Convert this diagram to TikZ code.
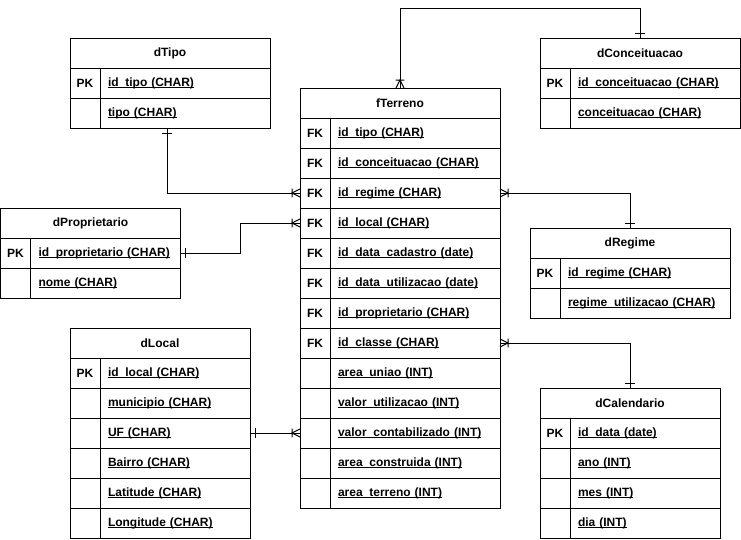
\documentclass[tikz,border=0pt]{standalone}
\usepackage{fontspec}
\setmainfont{Liberation Sans}
\usetikzlibrary{calc}

\pgfdeclarearrow{
  name = crow,
  setup code = {
    \pgfarrowssettipend{0pt}
    \pgfarrowssetlineend{0pt}
    \pgfarrowssetbackend{-6pt}
    \pgfarrowshullpoint{0pt}{3pt}
    \pgfarrowshullpoint{0pt}{-3pt}
    \pgfarrowshullpoint{-6pt}{3pt}
    \pgfarrowshullpoint{-6pt}{-3pt}
  },
  drawing code = {
    \pgfsetdash{}{0pt}
    \pgfpathmoveto{\pgfqpoint{0pt}{3pt}}
    \pgfpathlineto{\pgfqpoint{-6pt}{0pt}}
    \pgfpathlineto{\pgfqpoint{0pt}{-3pt}}
    \pgfpathmoveto{\pgfqpoint{-6pt}{3.2pt}}
    \pgfpathlineto{\pgfqpoint{-6pt}{-3.2pt}}
    \pgfusepathqstroke
  },
}
\pgfdeclarearrow{
  name = onebar,
  setup code = {
    \pgfarrowssettipend{0pt}
    \pgfarrowssetlineend{0pt}
    \pgfarrowssetbackend{-4pt}
    \pgfarrowshullpoint{0pt}{3.6pt}
    \pgfarrowshullpoint{-4pt}{3.6pt}
    \pgfarrowshullpoint{-4pt}{-3.6pt}
  },
  drawing code = {
    \pgfsetdash{}{0pt}
    \pgfpathmoveto{\pgfqpoint{-3.75pt}{3.6pt}}
    \pgfpathlineto{\pgfqpoint{-3.75pt}{-3.6pt}}
    \pgfusepathqstroke
  },
}

\newcommand{\erul}[1]{\setbox0\hbox{#1}\rlap{\rule[-1.6pt]{\wd0}{0.65pt}}\box0}

\tikzset{
  cell/.style={draw, line width=0.75pt, minimum height=22.5pt, inner sep=0pt, outer sep=0pt},
  hdr/.style={cell},
  keycell/.style={cell, minimum width=22.5pt},
  fieldcell/.style={cell, inner xsep=6pt, align=left},
  conn/.style={line width=0.75pt},
}

\newcommand{\ertable}[6]{%
  \node[hdr, minimum width=#4*0.75pt, anchor=north west] (#1) at (#2,#3) {#5};
  \pgfmathsetmacro{\ertw}{(#4-30)*0.75-12}%
  \foreach \k/\f [count=\i] in {#6} {
    \node[keycell, anchor=north west] (#1-k\i) at (#2, #3+30*\i) {\k};
    \node[fieldcell, text width=\ertw pt, anchor=north west] (#1-f\i) at (#2+30, #3+30*\i) {\erul{\f}};
  }
}

\begin{document}
\begin{tikzpicture}[x=0.75pt, y=-0.75pt, font=\bfseries\fontsize{9}{11}\selectfont]
\useasboundingbox (0,0) rectangle (741,539);

\ertable{tipo}{70}{38}{200}{dTipo}{PK/id\_tipo (CHAR), /tipo (CHAR)}
\ertable{conc}{540}{38}{200}{dConceituacao}{PK/id\_conceituacao (CHAR), /conceituacao (CHAR)}
\ertable{ft}{300}{88}{200}{fTerreno}{FK/id\_tipo (CHAR), FK/id\_conceituacao (CHAR), FK/id\_regime (CHAR), FK/id\_local (CHAR), FK/id\_data\_cadastro (date), FK/id\_data\_utilizacao (date), FK/id\_proprietario (CHAR), FK/id\_classe (CHAR), /area\_uniao (INT), /valor\_utilizacao (INT), /valor\_contabilizado (INT), /area\_construida (INT), /area\_terreno (INT)}
\ertable{prop}{0.5}{208}{180}{dProprietario}{PK/id\_proprietario (CHAR), /nome (CHAR)}
\ertable{reg}{530}{228}{200}{dRegime}{PK/id\_regime (CHAR), /regime\_utilizacao (CHAR)}
\ertable{loc}{70}{328}{180}{dLocal}{PK/id\_local (CHAR), /municipio (CHAR), /UF (CHAR), /Bairro (CHAR), /Latitude (CHAR), /Longitude (CHAR)}
\ertable{cal}{540}{388}{180}{dCalendario}{PK/id\_data (date), /ano (INT), /mes (INT), /dia (INT)}

\coordinate (tipoB) at ($(tipo.south |- tipo-f2.south)+(-3,0)$);
\coordinate (topline) at (0,8);

\draw[conn, onebar-crow] (tipoB) |- (ft-k3.west);
\draw[conn, onebar-crow] (prop-f1.east) -- ++(60,0) |- (ft-k4.west);
\draw[conn, onebar-crow] (conc.north) -- (conc.north |- topline) -| (ft.north);
\draw[conn, crow-onebar] (ft-f3.east) -| (reg.north);
\draw[conn, crow-onebar] (ft-f8.east) -| (cal.north);
\draw[conn, onebar-crow] (loc-f3.east) -- (ft-k11.west);
\end{tikzpicture}
\end{document}
